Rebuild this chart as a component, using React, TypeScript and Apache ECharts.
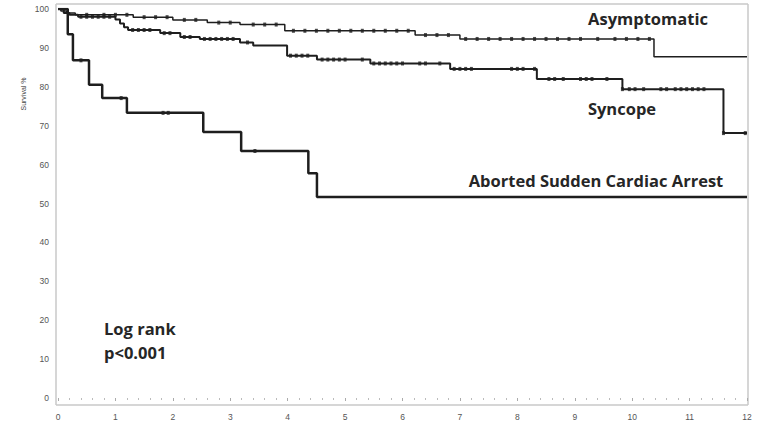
import React, { useEffect, useRef } from "react";
import * as echarts from "echarts";

// Kaplan-Meier steps: [time (years), survival %]
const asymptomaticSteps: [number, number][] = [
  [0, 100], [0.05, 99.5], [0.15, 99.0], [0.3, 98.5], [1.31, 97.9], [2.0, 97.2],
  [2.6, 96.5], [3.17, 96.0], [3.95, 94.4], [6.22, 93.3], [7.0, 92.3], [10.38, 87.7], [12, 87.7],
];
const syncopeSteps: [number, number][] = [
  [0, 100], [0.1, 99.0], [0.2, 98.5], [0.35, 98.0], [1.0, 97.3], [1.08, 96.3], [1.15, 95.3],
  [1.22, 94.6], [1.78, 93.8], [2.13, 92.8], [2.47, 92.3], [3.17, 91.4], [3.4, 90.6],
  [3.99, 88.0], [4.51, 87.0], [5.44, 86.0], [6.83, 84.6], [8.34, 82.0], [9.83, 79.4],
  [11.59, 68.1], [12, 68.1],
];
const ascaSteps: [number, number][] = [
  [0, 100], [0.17, 93.5], [0.26, 86.8], [0.54, 80.5], [0.77, 77.1], [1.2, 73.3],
  [2.53, 68.4], [3.19, 63.5], [4.36, 57.8], [4.51, 51.7], [12, 51.7],
];

// censored observations (years)
const asymptomaticCensored = [
  0.5, 0.8, 1.0, 1.2, 1.5, 1.7, 1.9, 2.2, 2.4, 2.8, 3.0, 3.4, 3.6, 3.8, 4.1, 4.3, 4.5, 4.7,
  4.9, 5.1, 5.3, 5.5, 5.7, 5.9, 6.1, 6.4, 6.6, 6.8, 7.1, 7.3, 7.5, 7.7, 7.9, 8.1, 8.3,
  8.5, 8.7, 8.9, 9.1, 9.4, 9.7, 9.9, 10.1, 10.3,
];
const syncopeCensored = [
  0.4, 0.5, 0.6, 0.7, 0.8, 0.9, 1.3, 1.4, 1.5, 1.6, 1.85, 1.95, 2.2, 2.3, 2.55, 2.65, 2.75,
  2.85, 2.95, 3.05, 3.3, 4.05, 4.15, 4.25, 4.35, 4.6, 4.7, 4.8, 4.9, 5.0, 5.3, 5.5, 5.6,
  5.7, 5.8, 5.9, 6.0, 6.3, 6.4, 6.65, 6.9, 7.0, 7.1, 7.2, 7.9, 8.0, 8.1, 8.3, 8.55, 8.65,
  8.8, 9.1, 9.2, 9.3, 9.56, 9.83, 9.95, 10.05, 10.2, 10.5, 10.6, 10.75, 10.85, 10.95, 11.05,
  11.15, 11.25, 11.59, 11.97,
];
const ascaCensored = [0.4, 1.1, 1.83, 1.92, 3.43];

const xTicks = [0, 12, 1];
const yTicks = [0, 100, 10];

function survivalAt(steps: [number, number][], t: number): number {
  let v = steps[0][1];
  for (const [st, sv] of steps) {
    if (st <= t) v = sv;
  }
  return v;
}

export default function App() {
  const ref = useRef<HTMLDivElement>(null);
  useEffect(() => {
    if (!ref.current) return;
    const chart = echarts.init(ref.current, undefined, { renderer: "svg" });
    const ink = "#1e1e1e";
    const frame = "#c8c8c8";
    const curve = (name: string, steps: [number, number][], w: number) => ({
      name,
      type: "line",
      step: "end",
      data: steps,
      symbol: "none",
      lineStyle: { color: ink, width: w },
      z: 3,
    });
    const marks = (name: string, steps: [number, number][], times: number[]) => ({
      name: name + " censored",
      type: "scatter",
      data: times.map((t) => [t, survivalAt(steps, t)]),
      symbol: "rect",
      symbolSize: [3, 4],
      itemStyle: { color: ink },
      z: 4,
    });
    const labelFont = "'Open Sans', 'Noto Sans', sans-serif";
    const label = (text: string, x: number, y: number, align: string) => ({
      type: "text", x, y,
      style: { text, fontSize: 16.5, fontWeight: "bold", fill: "#262626", align, verticalAlign: "middle", fontFamily: labelFont },
    });
    chart.setOption({
      animation: false,
      backgroundColor: "#ffffff",
      grid: { left: 58, right: 16, top: 9, bottom: 30 },
      xAxis: {
        type: "value",
        min: xTicks[0],
        max: xTicks[1],
        interval: xTicks[2],
        offset: 7,
        axisLine: { show: false },
        axisTick: { show: true, length: 3, lineStyle: { color: "#aaa" } },
        minorTick: { show: true, splitNumber: 5, length: 2, lineStyle: { color: "#bbb" } },
        axisLabel: { color: "#555", fontSize: 8.5, margin: 7, fontFamily: "Liberation Sans" },
        splitLine: { show: false },
      },
      yAxis: {
        type: "value",
        min: yTicks[0],
        max: yTicks[1],
        interval: yTicks[2],
        offset: 2,
        axisLine: { show: false },
        axisTick: { show: false },
        axisLabel: { color: "#555", fontSize: 8.5, margin: 7, fontFamily: "Liberation Sans" },
        splitLine: { show: false },
      },
      graphic: [
        { type: "line", shape: { x1: 56, y1: 4, x2: 56, y2: 405 }, style: { stroke: frame, lineWidth: 1.5 } },
        { type: "line", shape: { x1: 56, y1: 4, x2: 748, y2: 4 }, style: { stroke: frame, lineWidth: 1.5 } },
        { type: "line", shape: { x1: 748, y1: 4, x2: 748, y2: 405 }, style: { stroke: frame, lineWidth: 1.5 } },
        { type: "line", shape: { x1: 56, y1: 405, x2: 748, y2: 405 }, style: { stroke: frame, lineWidth: 1.5 } },
        {
          type: "text", x: 23, y: 94, rotation: Math.PI / 2,
          style: { text: "Survival %", fontSize: 7, fill: "#444", align: "center", verticalAlign: "middle", fontFamily: "Liberation Sans" },
        },
        label("Asymptomatic", 648, 18, "center"),
        label("Syncope", 622, 108, "center"),
        label("Aborted Sudden Cardiac Arrest", 596, 180, "center"),
        label("Log rank", 104, 328, "left"),
        label("p<0.001", 104, 352, "left"),
      ],
      series: [
        curve("Asymptomatic", asymptomaticSteps, 1.5),
        curve("Syncope", syncopeSteps, 2),
        curve("Aborted Sudden Cardiac Arrest", ascaSteps, 2.5),
        marks("Asymptomatic", asymptomaticSteps, asymptomaticCensored),
        marks("Syncope", syncopeSteps, syncopeCensored),
        marks("Aborted Sudden Cardiac Arrest", ascaSteps, ascaCensored),
      ],
    });
    return () => chart.dispose();
  }, []);
  return (
    <div
      ref={ref}
      style={{ position: "absolute", left: 0, top: 0, width: 763, height: 428 }}
    />
  );
}
